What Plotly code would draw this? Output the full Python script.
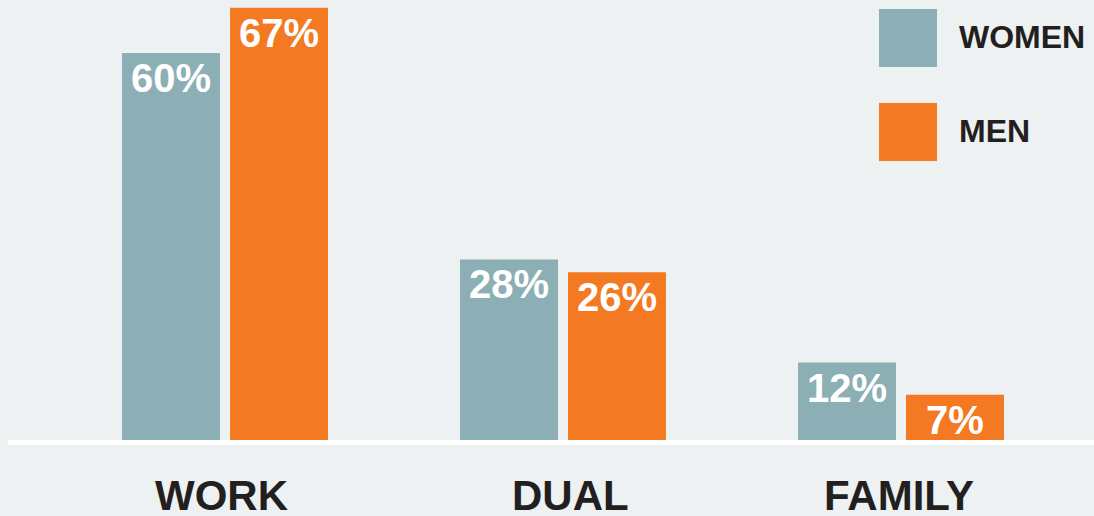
import plotly.graph_objects as go

# Share of respondents by priority, by gender
categories = ["WORK", "DUAL", "FAMILY"]
women = [60, 28, 12]
men = [67, 26, 7]
series_names = ["WOMEN", "MEN"]

BG = "#EDF1F2"
WOMEN_COLOR = "#8CAFB5"
MEN_COLOR = "#F37A22"
INK = "#231F20"
FONT = "Liberation Sans, Arial, Helvetica, sans-serif"

W, H = 1094, 516
PLOT_H = 445  # plot area height in px (top margin 0)


def px_x(x):
    return x / W


def px_y(y):
    return (PLOT_H - y) / PLOT_H


fig = go.Figure()
for name, vals, color in [(series_names[0], women, WOMEN_COLOR),
                          (series_names[1], men, MEN_COLOR)]:
    fig.add_trace(go.Bar(
        x=categories,
        y=vals,
        name=name,
        marker=dict(color=color, line=dict(width=0)),
        text=[f"{v}%" for v in vals],
        textposition="inside",
        insidetextanchor="end",
        constraintext="none",
        textfont=dict(family=FONT, size=40, color="white", weight="bold"),
        showlegend=False,
        hoverinfo="skip",
    ))

# white baseline under the bars
fig.add_shape(type="rect", xref="paper", yref="y",
              x0=px_x(8), x1=1, y0=-0.78, y1=0,
              fillcolor="white", line=dict(width=0), layer="above")

# category names under each group (slight optical nudges)
label_nudge = [-4, 7, -2]
for cat, dx in zip(categories, label_nudge):
    fig.add_annotation(xref="x", yref="paper", x=cat, y=px_y(495.5),
                       xshift=dx, xanchor="center", yanchor="middle",
                       showarrow=False, text=f"<b>{cat}</b>",
                       font=dict(family=FONT, size=42, color=INK))

# legend: large swatches with bold labels
legend_rows = [(series_names[0], WOMEN_COLOR, 9, 67),
               (series_names[1], MEN_COLOR, 103, 161)]
for label, color, top, bottom in legend_rows:
    fig.add_shape(type="rect", xref="paper", yref="paper",
                  x0=px_x(879), x1=px_x(937), y0=px_y(bottom), y1=px_y(top),
                  fillcolor=color, line=dict(width=0))
    fig.add_annotation(xref="paper", yref="paper",
                       x=px_x(957), y=px_y((top + bottom) / 2 - 1),
                       xanchor="left", yanchor="middle", showarrow=False,
                       text=f"<b>{label}</b>",
                       font=dict(family=FONT, size=32, color=INK))

fig.update_layout(
    width=W, height=H,
    margin=dict(l=0, r=0, t=0, b=H - PLOT_H, pad=0),
    paper_bgcolor=BG, plot_bgcolor=BG,
    barmode="group",
    bargap=0.361,
    bargroupgap=0.0926,
    uniformtext=dict(minsize=40, mode="show"),
    xaxis=dict(type="category", range=[-0.6657, 2.571], showgrid=False,
               zeroline=False, showline=False, ticks="",
               showticklabels=False, automargin=False, fixedrange=True),
    yaxis=dict(range=[-0.78, 68.22], visible=False, fixedrange=True),
)

fig.write_html("out.html")
